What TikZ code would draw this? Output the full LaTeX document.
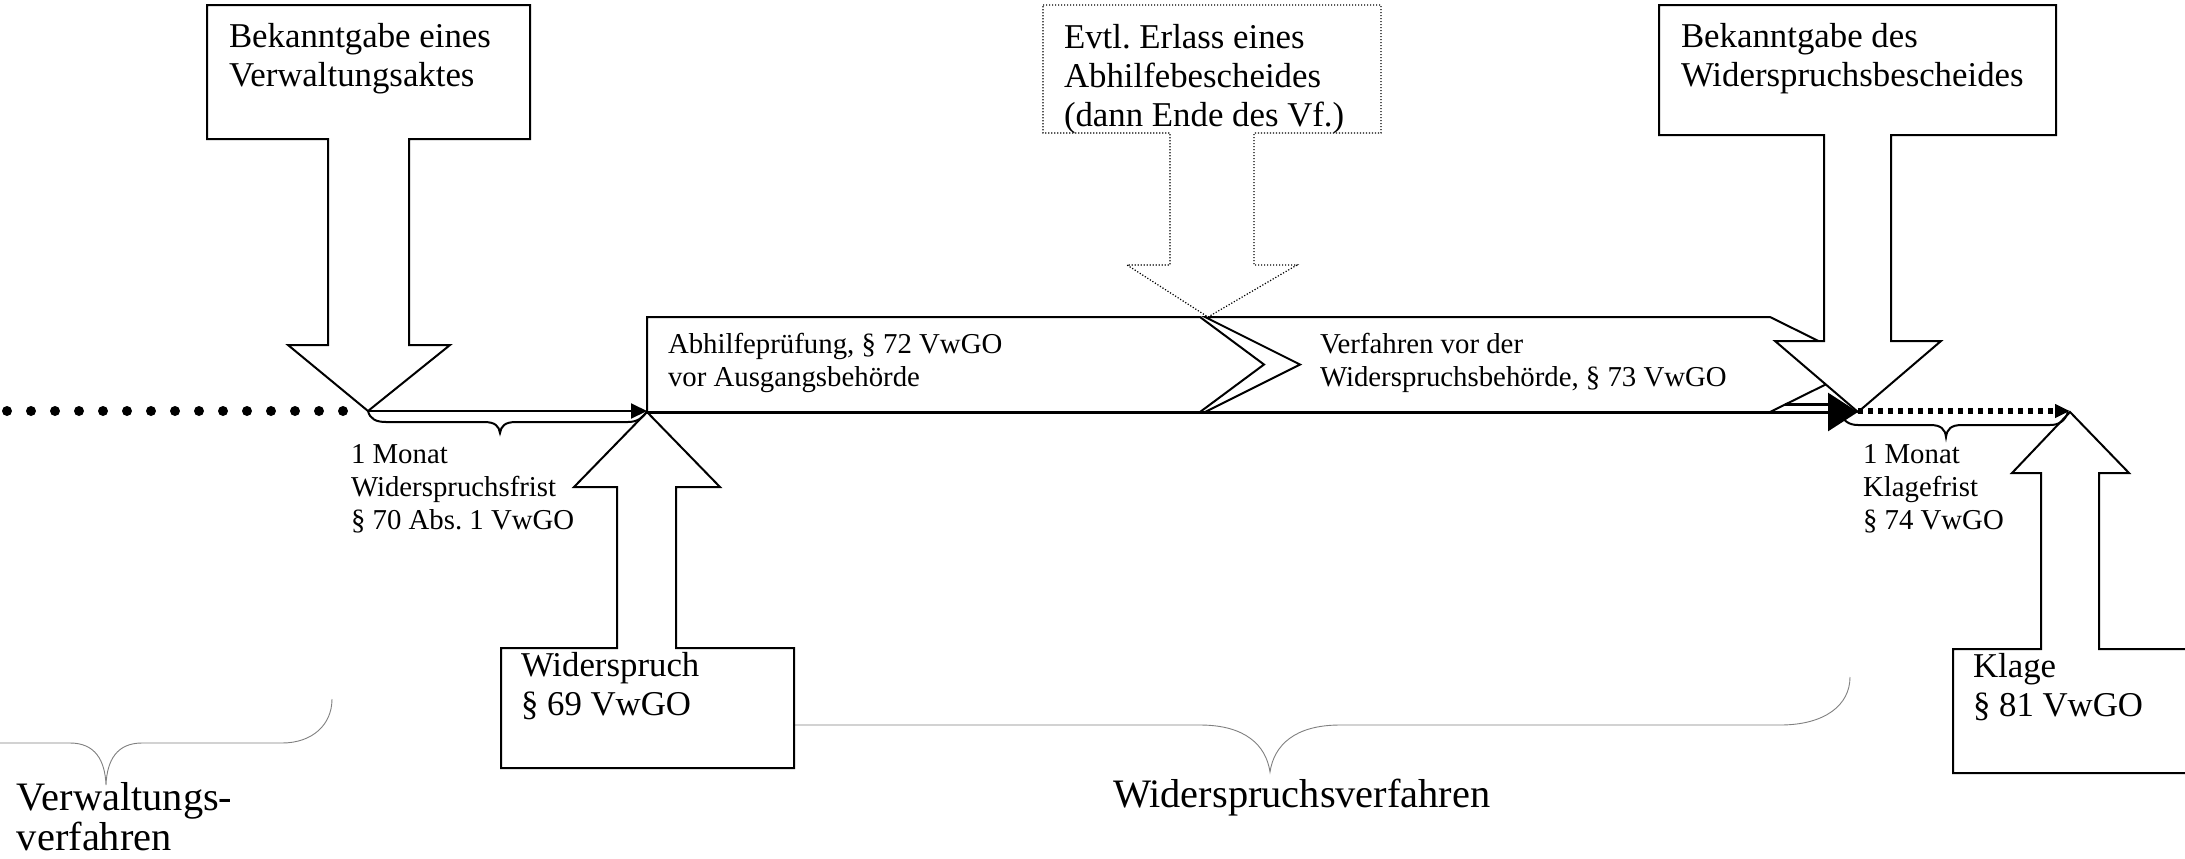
\documentclass[tikz,border=0pt]{standalone}
\usepackage{fontspec}
\setmainfont{Liberation Serif}
\usetikzlibrary{arrows.meta}
\frenchspacing

\newcommand\mylines[1]{\begin{tabular}[t]{@{}l@{}}#1\end{tabular}}

\tikzset{
  box/.style={draw=black, line width=1pt, fill=white, line join=miter},
  dotbox/.style={draw=black, line width=0.6pt, dash pattern=on 0.6pt off 0.9pt, fill=white},
  lbl/.style={anchor=base west, inner sep=0pt, outer sep=0pt},
  bigtxt/.style={font=\fontsize{17.4}{19.5}\selectfont},
  midtxt/.style={font=\fontsize{14.4}{16.5}\selectfont},
  xltxt/.style={font=\fontsize{20.2}{20}\selectfont},
  brace/.style={draw=black, line width=1pt},
  gbrace/.style={draw=black!50, line width=0.45pt},
}

\begin{document}
\begin{tikzpicture}[x=0.5pt,y=-0.5pt]
\useasboundingbox (0,0) rectangle (2185,858);
\fill[white] (0,0) rectangle (2185,858);
\begin{scope}
\clip (0,0) rectangle (2185,858);

% grey overview braces
\draw[gbrace] (-120,699) .. controls (-120,725) and (-100,743) .. (-70,743)
  -- (70,743) .. controls (95,743) and (105,760) .. (106,785)
  .. controls (107,760) and (117,743) .. (142,743)
  -- (282,743) .. controls (312,743) and (332,725) .. (332,699);
\draw[gbrace] (690,677) .. controls (690,705) and (715,725) .. (760,725)
  -- (1200,725) .. controls (1245,725) and (1266,745) .. (1270,772)
  .. controls (1274,745) and (1295,725) .. (1340,725)
  -- (1780,725) .. controls (1825,725) and (1850,705) .. (1850,677);

% chevrons
\draw[box] (1205,317) -- (1770,317) -- (1866,364.5) -- (1770,412) -- (1205,412) -- (1300,364.5) -- cycle;
\draw[box] (647,317) -- (1200,317) -- (1264,364.5) -- (1200,412) -- (647,412) -- cycle;

% callouts
\draw[box] (207,5) -- (530,5) -- (530,139) -- (409,139) -- (409,345) -- (450,345)
  -- (368,411) -- (288,345) -- (328,345) -- (328,139) -- (207,139) -- cycle;
\draw[dotbox] (1043,5) -- (1381,5) -- (1381,133) -- (1254,133) -- (1254,265) -- (1297,265)
  -- (1208,317) -- (1127,265) -- (1170,265) -- (1170,133) -- (1043,133) -- cycle;
\draw[box] (1659,5) -- (2056,5) -- (2056,135) -- (1891,135) -- (1891,341) -- (1941,341)
  -- (1858,412) -- (1775,341) -- (1824,341) -- (1824,135) -- (1659,135) -- cycle;
\draw[box] (501,768) -- (501,648) -- (617,648) -- (617,487) -- (574,487) -- (647,412)
  -- (720,487) -- (676,487) -- (676,648) -- (794,648) -- (794,768) -- cycle;
\draw[box] (2260,649) -- (2099,649) -- (2099,473) -- (2129,473) -- (2070,412)
  -- (2012,473) -- (2041,473) -- (2041,649) -- (1953,649) -- (1953,773) -- (2260,773);

% time line points
\coordinate (dotA) at (7,411);
\coordinate (dotB) at (350,411);
\coordinate (vatip) at (368,411);
\coordinate (abl) at (647,411);
\coordinate (tlA) at (647,412);
\coordinate (wbtip) at (1858,412);
\coordinate (dotsA) at (1858,411);
\coordinate (kltip) at (2070,411);

\draw[line width=5pt, line cap=round, dash pattern=on 0pt off 12pt] (dotA) -- (dotB);
\draw[line width=1pt, -{Triangle[length=8pt,width=7.5pt]}] (vatip) -- (abl);
\draw[line width=1.5pt, -{Triangle[length=15pt,width=19pt]}] (tlA) -- (wbtip);
\draw[line width=1.5pt] (1785,404) -- (1830,404);
\draw[line width=2.6pt, dash pattern=on 2.6pt off 2.4pt, -{Triangle[length=7.5pt,width=6.5pt]}] (dotsA) -- (kltip);

% braces (periods)
\draw[brace] (vatip) .. controls (370,419) and (376,422) .. (386,422)
  -- (484,422) .. controls (495,422) and (499,426) .. (500,433)
  .. controls (501,426) and (505,422) .. (516,422)
  -- (628,422) .. controls (637,422) and (643,418) .. (abl);
\draw[brace] (1840,412) .. controls (1843,421) and (1849,425) .. (1858,425)
  -- (1930,425) .. controls (1941,425) and (1945,429) .. (1946,437)
  .. controls (1947,429) and (1951,425) .. (1962,425)
  -- (2050,425) .. controls (2059,425) and (2065,421) .. (2068,412);
\end{scope}

% texts
\node[lbl,bigtxt] (tva) at (229,47) {\mylines{Bekanntgabe eines\\Verwaltungsaktes}};
\node[lbl,bigtxt] (tev) at (1064,48) {\mylines{Evtl. Erlass eines\\Abhilfebescheides\\(dann Ende des Vf.)}};
\node[lbl,bigtxt] (twb) at (1681,47) {\mylines{Bekanntgabe des\\Widerspruchsbescheides}};
\node[lbl,midtxt] (tab) at (668,353) {\mylines{Abhilfeprüfung, §~72 VwGO\\vor Ausgangsbehörde}};
\node[lbl,midtxt] (tvf) at (1320,353) {\mylines{Verfahren vor der\\Widerspruchsbehörde, §~73 VwGO}};
\node[lbl,midtxt] (tf1) at (351,463) {\mylines{1 Monat\\Widerspruchsfrist\\§~70 Abs.~1 VwGO}};
\node[lbl,midtxt] (tf2) at (1863,463) {\mylines{1 Monat\\Klagefrist\\§~74 VwGO}};
\node[lbl,bigtxt] (twi) at (521,676) {\mylines{Widerspruch\\§~69 VwGO}};
\node[lbl,bigtxt] (tkl) at (1973,677) {\mylines{Klage\\§~81 VwGO}};
\node[lbl,xltxt] (tvv) at (17,810) {\mylines{Verwaltungs-\\verfahren}};
\node[lbl,xltxt] (twv) at (1113,807) {Widerspruchsverfahren};
\end{tikzpicture}
\end{document}
